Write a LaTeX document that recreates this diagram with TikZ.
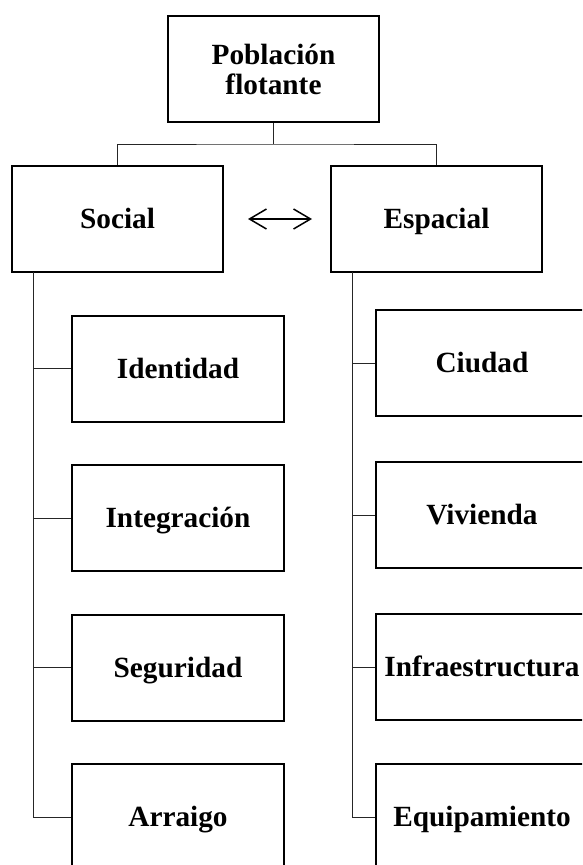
\documentclass[tikz,border=0pt]{standalone}
\usepackage{fontspec}
\setmainfont{Liberation Serif}
\usetikzlibrary{arrows.meta,calc}
\tikzset{
  boxbase/.style={draw=black, line width=2pt, rectangle, minimum width=211pt, minimum height=106pt,
    inner sep=0pt, align=center, font=\fontsize{29.3}{30}\selectfont\bfseries},
  box/.style={boxbase, text height=23.4pt, text depth=4.1pt},
  link/.style={draw=black!85, line width=1pt},
  rel/.style={line width=1.5pt, {Straight Barb[length=17pt,width=20pt,line width=1.5pt]}-{Straight Barb[length=17pt,width=20pt,line width=1.5pt]}}
}
\begin{document}
\begin{tikzpicture}[x=1pt,y=-1pt]
\useasboundingbox (0,0) rectangle (582,865);
\clip (0,0) rectangle (582,865);
\node[boxbase] (top) at (273.5,69) {Población\\flotante};
\node[box] (soc) at (117.5,219) {Social};
\node[box] (esp) at (436.5,219) {Espacial};
\node[box, minimum width=212pt] (ide) at (178,368.5) {Identidad};
\node[box, minimum width=212pt] (int) at (178,518) {Integración};
\node[box, minimum width=212pt] (seg) at (178,667.5) {Seguridad};
\node[box, minimum width=212pt] (arr) at (178,817) {Arraigo};
\node[box, minimum width=212pt] (ciu) at (482,363) {Ciudad};
\node[box, minimum width=212pt] (viv) at (482,515) {Vivienda};
\node[box, minimum width=212pt] (inf) at (482,667) {Infraestructura};
\node[box, minimum width=212pt] (equ) at (482,817) {Equipamiento};
\coordinate (mid) at (273.5,144);
\coordinate (lt) at (33,272);
\coordinate (rt) at (352,272);
\draw[link] (top.south) -- (mid);
\draw[link] (soc.north) |- (mid) -| (esp.north);
\draw[link] (lt) |- (arr.west);
\draw[link] (rt) |- (equ.west);
\foreach \n in {ide,int,seg} \draw[link] (\n.west) -- (\n.west -| lt);
\foreach \n in {ciu,viv,inf} \draw[link] (\n.west) -- (\n.west -| rt);
\draw[rel] ([xshift=24pt]soc.east) -- ([xshift=-18pt]esp.west);
\end{tikzpicture}
\end{document}
